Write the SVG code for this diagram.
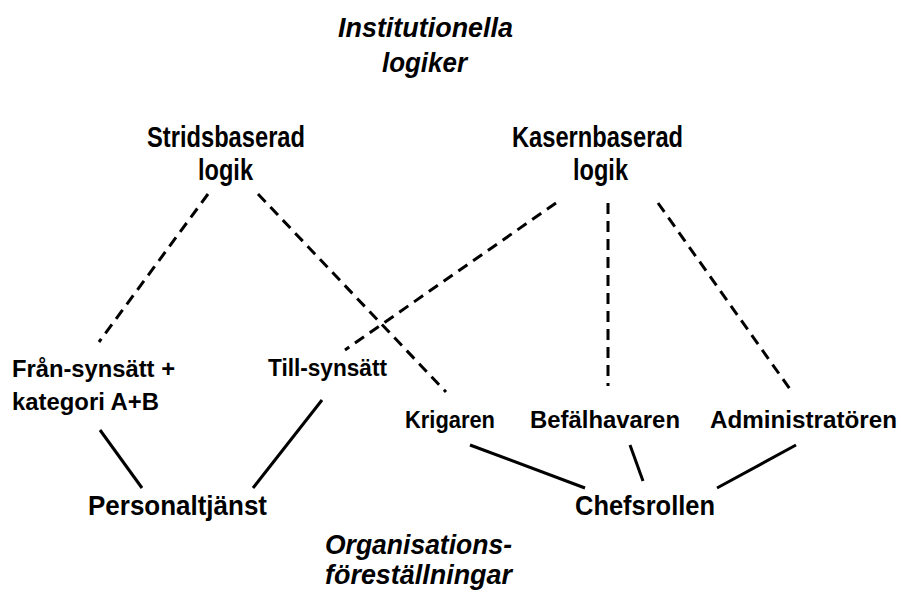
<svg xmlns="http://www.w3.org/2000/svg" width="901" height="592" viewBox="0 0 901 592">
<style>
text{font-family:"Liberation Sans",Arial,sans-serif;font-weight:bold;fill:#000}
.it{font-style:italic;font-size:27px}
.hd{font-size:29px}
.big{font-size:28px}
.lb{font-size:23px}
.dash{stroke:#000;stroke-width:3;fill:none;stroke-dasharray:11 7}
.solid{stroke:#000;stroke-width:3;fill:none}
</style>
<rect width="901" height="592" fill="#fff"/>
<g id="connectors">
<line class="dash" x1="208" y1="194" x2="99" y2="342"/>
<line class="dash" x1="258" y1="194" x2="446" y2="392"/>
<line class="dash" x1="556" y1="203" x2="345" y2="350"/>
<line class="dash" x1="608" y1="203" x2="608" y2="386"/>
<line class="dash" x1="658" y1="203" x2="792" y2="392"/>
<line class="solid" x1="100" y1="430" x2="142" y2="488"/>
<line class="solid" x1="322" y1="400" x2="253" y2="488"/>
<line class="solid" x1="470" y1="445" x2="585" y2="488"/>
<line class="solid" x1="630" y1="445" x2="643" y2="481"/>
<line class="solid" x1="796" y1="445" x2="717" y2="488"/>
</g>
<g id="title-top">
<text class="it" x="338" y="37" textLength="175" lengthAdjust="spacingAndGlyphs">Institutionella</text>
<text class="it" x="382" y="72" textLength="85" lengthAdjust="spacingAndGlyphs">logiker</text>
</g>
<g id="stridsbaserad">
<text class="hd" x="147" y="147" textLength="158" lengthAdjust="spacingAndGlyphs">Stridsbaserad</text>
<text class="hd" x="198" y="180" textLength="55" lengthAdjust="spacingAndGlyphs">logik</text>
</g>
<g id="kasernbaserad">
<text class="hd" x="512" y="147" textLength="171" lengthAdjust="spacingAndGlyphs">Kasernbaserad</text>
<text class="hd" x="573" y="180" textLength="55" lengthAdjust="spacingAndGlyphs">logik</text>
</g>
<g id="fran-synsatt">
<text class="lb" x="12" y="377" textLength="163" lengthAdjust="spacingAndGlyphs">Från-synsätt +</text>
<text class="lb" x="12" y="410" textLength="147" lengthAdjust="spacingAndGlyphs">kategori A+B</text>
</g>
<g id="till-synsatt">
<text class="lb" x="268" y="376" textLength="119" lengthAdjust="spacingAndGlyphs">Till-synsätt</text>
</g>
<g id="krigaren">
<text class="lb" x="405" y="428" textLength="90" lengthAdjust="spacingAndGlyphs">Krigaren</text>
</g>
<g id="befalhavaren">
<text class="lb" x="530" y="428" textLength="150" lengthAdjust="spacingAndGlyphs">Befälhavaren</text>
</g>
<g id="administratoren">
<text class="lb" x="710" y="428" textLength="187" lengthAdjust="spacingAndGlyphs">Administratören</text>
</g>
<g id="personaltjanst">
<text class="big" x="88" y="515" textLength="179" lengthAdjust="spacingAndGlyphs">Personaltjänst</text>
</g>
<g id="chefsrollen">
<text class="big" x="575" y="515" textLength="140" lengthAdjust="spacingAndGlyphs">Chefsrollen</text>
</g>
<g id="title-bottom">
<text class="it" x="325" y="554" textLength="187" lengthAdjust="spacingAndGlyphs">Organisations-</text>
<text class="it" x="325" y="584" textLength="187" lengthAdjust="spacingAndGlyphs">föreställningar</text>
</g>
</svg>
